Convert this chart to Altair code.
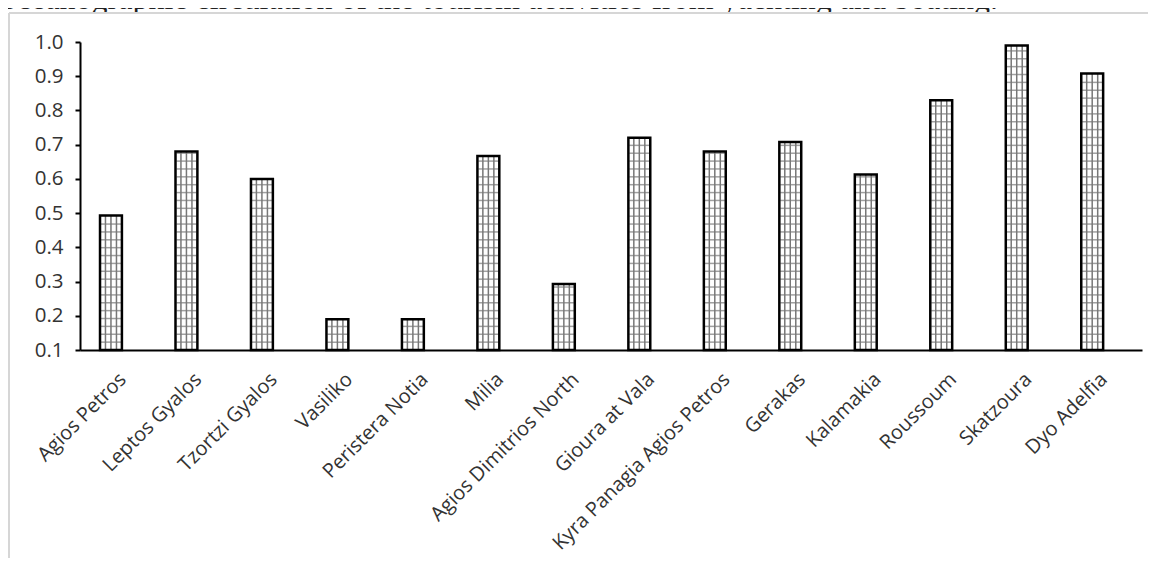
import altair as alt
import pandas as pd

sites = ["Agios Petros", "Leptos Gyalos", "Tzortzi Gyalos", "Vasiliko", "Peristera Notia",
         "Milia", "Agios Dimitrios North", "Gioura at Vala", "Kyra Panagia Agios Petros",
         "Gerakas", "Kalamakia", "Roussoum", "Skatzoura", "Dyo Adelfia"]
values = [0.493, 0.68, 0.60, 0.19, 0.19, 0.667, 0.293, 0.72, 0.68, 0.708, 0.613, 0.83, 0.99, 0.908]
y_ticks = [0.1, 0.2, 0.3, 0.4, 0.5, 0.6, 0.7, 0.8, 0.9, 1.0]
caption = ["oceanographic circulation of the tourism activities from yachting and boating."]

df = pd.DataFrame({"site": sites, "value": values})

xscale = alt.Scale(paddingInner=0.71, paddingOuter=0.39, align=0.34)
yscale = alt.Scale(domain=[0.1, 1.0], nice=False, zero=False)
xaxis = alt.Axis(title=None, labelAngle=-45, labelAlign="right", labelBaseline="middle",
                 labelOffset=12, labelPadding=26, ticks=False, labelLimit=0, labelFontSize=20)
yaxis = alt.Axis(title=None, values=y_ticks, format=".1f", tickColor="black", tickWidth=2,
                 tickSize=5, labelPadding=12, labelFontSize=20.5)

xenc = alt.X("site:N", sort=sites, scale=xscale, axis=xaxis)
yenc = alt.Y("value:Q", scale=yscale, axis=yaxis)

base = alt.Chart(df)

# decoration: caption cut at the top of the page and light page border
deco = pd.DataFrame({"t": caption})
cap = alt.Chart(deco).mark_text(
    align="left", baseline="alphabetic", font="Liberation Serif", fontSize=32, color="#222"
).encode(x=alt.value(-79), y=alt.value(-33), text="t:N")
cover = alt.Chart(deco).mark_rect(color="white").encode(
    x=alt.value(-72), x2=alt.value(1075), y=alt.value(-29), y2=alt.value(-12))
border_top = alt.Chart(deco).mark_rule(color="#d6d6d6", strokeWidth=2).encode(
    x=alt.value(-71), x2=alt.value(1075), y=alt.value(-29))
border_left = alt.Chart(deco).mark_rule(color="#d6d6d6", strokeWidth=2).encode(
    x=alt.value(-71), y=alt.value(-29), y2=alt.value(540))

bars_fill = base.mark_bar(fill="white").encode(x=xenc, y=yenc, y2=alt.datum(0.1))

hatch_h = base.transform_calculate(
    h="sequence(0.1 + 0.023, datum.value - 0.004, 0.023)"
).transform_flatten(["h"]).mark_tick(
    orient="horizontal", size=20, thickness=1.5, color="#777777"
).encode(x=xenc, y=alt.Y("h:Q", scale=yscale, axis=yaxis))

vlines = []
for off in [-5.5, 0, 5.5]:
    vlines.append(base.mark_rule(color="#777777", strokeWidth=1.5, xOffset=off).encode(
        x=xenc, y=yenc, y2=alt.datum(0.1)))

bars_edge = base.mark_bar(fillOpacity=0, stroke="black", strokeWidth=2.5).encode(
    x=xenc, y=yenc, y2=alt.datum(0.1))

chart = alt.layer(cap, cover, border_top, border_left, bars_fill, hatch_h, *vlines, bars_edge).properties(
    width=1062, height=308, autosize="none",
    padding={"left": 72, "top": 34, "right": 6, "bottom": 208}
).configure_view(stroke=None).configure_axis(
    grid=False, labelFont="Open Sans", labelColor="#333",
    domainColor="black", domainWidth=2
)

chart.save("out.html", embed_options={"renderer": "svg", "actions": False})
